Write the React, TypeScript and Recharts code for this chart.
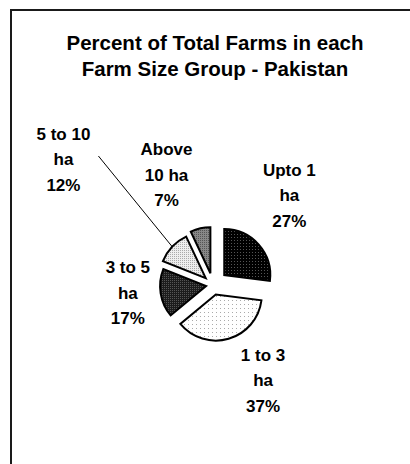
import { PieChart, Pie, Cell, Sector } from 'recharts';

const categories = ['Upto 1 ha', '1 to 3 ha', '3 to 5 ha', '5 to 10 ha', 'Above 10 ha'];
const shares = [27, 37, 17, 12, 7];
const labelLines = [
    ['Upto 1', 'ha'],
    ['1 to 3', 'ha'],
    ['3 to 5', 'ha'],
    ['5 to 10', 'ha'],
    ['Above', '10 ha'],
];
const titleLines = ['Percent of Total Farms in each', 'Farm Size Group - Pakistan'];

const data = categories.map((name, i) => ({ name, value: shares[i] }));

// styling per slice
const fills = ['url(#pDark)', 'url(#pWhite)', 'url(#pDark2)', 'url(#pLight)', 'url(#pMid)'];
const explode = [15, 10, 7, 10, 12];
// [distance from pie centre, angle nudge in degrees]
const labelPos = [
    [115, 7],
    [111, 10.6],
    [86, -1],
    [193, 4],
    [116, 11],
];

const FONT = '"Liberation Sans", Arial, sans-serif';
const RAD = Math.PI / 180;

const ExplodedSector = (props: any) => {
    const { cx, cy, midAngle, innerRadius, outerRadius, startAngle, endAngle, fill } = props;
    const idx = categories.indexOf(props.name ?? props.payload?.name);
    const d = explode[idx] ?? 0;
    const dx = Math.cos(-midAngle * RAD) * d;
    const dy = Math.sin(-midAngle * RAD) * d;
    return (
        <Sector
            cx={cx + dx}
            cy={cy + dy}
            innerRadius={innerRadius}
            outerRadius={outerRadius}
            startAngle={startAngle}
            endAngle={endAngle}
            fill={fill}
            stroke="#000"
            strokeWidth={2}
        />
    );
};

const renderLabel = (props: any) => {
    const { cx, cy, midAngle, outerRadius, index } = props;
    const [r, nudge] = labelPos[index];
    const a = (midAngle + nudge) * RAD;
    const x = cx + Math.cos(-a) * r;
    const y = cy + Math.sin(-a) * r;
    const lines = [...labelLines[index], `${shares[index]}%`];
    let leader = null;
    if (index === 3) {
        // leader line from the label to the slice edge
        const d = explode[index];
        const m = -midAngle * RAD;
        const ex = cx + Math.cos(m) * (d + outerRadius);
        const ey = cy + Math.sin(m) * (d + outerRadius);
        leader = <line x1={x + 35} y1={y - 7} x2={ex} y2={ey} stroke="#000" strokeWidth={1} />;
    }
    return (
        <g>
            {leader}
            <text
                x={x}
                y={y}
                textAnchor="middle"
                fontFamily={FONT}
                fontWeight="bold"
                fontSize={17}
                fill="#000"
            >
                {lines.map((t, i) => (
                    <tspan key={i} x={x} y={y + (i - 1) * 25.5 + 2}>
                        {t}
                    </tspan>
                ))}
            </text>
        </g>
    );
};

const App = () => {
    return (
        <div style={{ position: 'absolute', left: 0, top: 0, width: 410, height: 464, overflow: 'hidden', background: '#fff' }}>
            <div
                style={{
                    position: 'absolute',
                    left: 10,
                    top: 9,
                    width: 430,
                    height: 480,
                    border: '2px solid #1a1a1a',
                }}
            />
            <svg width={410} height={464} style={{ position: 'absolute', left: 0, top: 0 }}>
                <defs>
                    <pattern id="pDark" width="3" height="3" patternUnits="userSpaceOnUse">
                        <rect width="3" height="3" fill="#000" />
                        <rect width="1" height="1" fill="#555" />
                    </pattern>
                    <pattern id="pDark2" width="2" height="2" patternUnits="userSpaceOnUse">
                        <rect width="2" height="2" fill="#1c1c1c" />
                        <rect width="1" height="1" fill="#555" />
                    </pattern>
                    <pattern id="pWhite" width="4" height="4" patternUnits="userSpaceOnUse">
                        <rect width="4" height="4" fill="#fff" />
                        <rect width="1" height="1" fill="#aaa" />
                    </pattern>
                    <pattern id="pLight" width="2" height="2" patternUnits="userSpaceOnUse">
                        <rect width="2" height="2" fill="#eee" />
                        <rect width="1" height="1" fill="#aaa" />
                    </pattern>
                    <pattern id="pMid" width="2" height="2" patternUnits="userSpaceOnUse">
                        <rect width="2" height="2" fill="#888" />
                        <rect width="1" height="1" fill="#555" />
                    </pattern>
                </defs>
                {titleLines.map((t, i) => (
                    <text
                        key={i}
                        x={215}
                        y={50 + i * 26}
                        textAnchor="middle"
                        fontFamily={FONT}
                        fontWeight="bold"
                        fontSize={20.5}
                        fill="#000"
                    >
                        {t}
                    </text>
                ))}
            </svg>
            <div style={{ position: 'absolute', left: 0, top: 0 }}>
                <PieChart width={410} height={464}>
                    <Pie
                        data={data}
                        dataKey="value"
                        nameKey="name"
                        cx={208}
                        cy={280}
                        outerRadius={46}
                        startAngle={90}
                        endAngle={-270}
                        stroke="#000"
                        strokeWidth={2}
                        shape={ExplodedSector}
                        label={renderLabel}
                        labelLine={false}
                        isAnimationActive={false}
                    >
                        {data.map((d, i) => (
                            <Cell key={d.name} fill={fills[i]} />
                        ))}
                    </Pie>
                </PieChart>
            </div>
        </div>
    );
};

export default App;
